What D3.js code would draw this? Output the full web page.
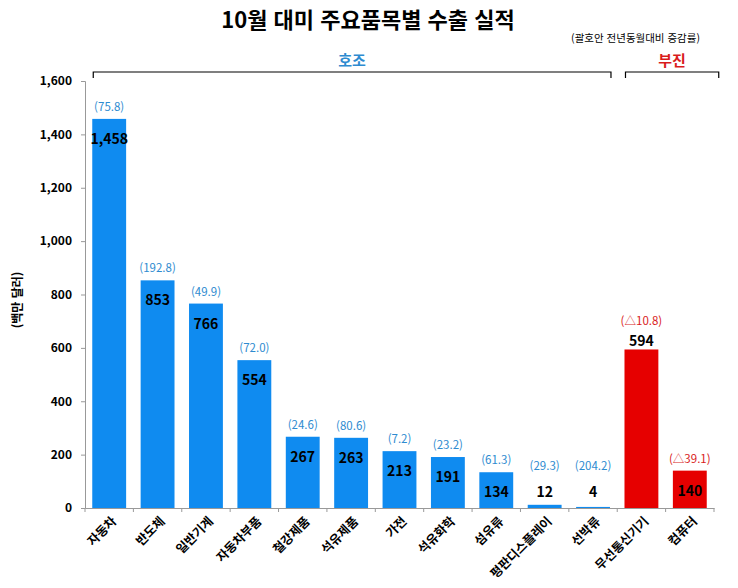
<!DOCTYPE html>
<html lang="ko">
<head>
<meta charset="UTF-8">
<title>10월 대미 주요품목별 수출 실적</title>
<script src="https://d3js.org/d3.v7.min.js"></script>
<style>
  body { margin: 0; background: #fff; font-family: "Noto Sans CJK KR", "Noto Sans", sans-serif; }
  svg text { font-family: "Noto Sans CJK KR", "Noto Sans", sans-serif; }
</style>
</head>
<body>
<svg id="chart" width="738" height="588"></svg>
<script>
  // data
  const items = ["자동차", "반도체", "일반기계", "자동차부품", "철강제품", "석유제품", "가전",
                 "석유화학", "섬유류", "평판디스플레이", "선박류", "무선통신기기", "컴퓨터"];
  const exportValues = [1458, 853, 766, 554, 267, 263, 213, 191, 134, 12, 4, 594, 140];
  const growth = ["(75.8)", "(192.8)", "(49.9)", "(72.0)", "(24.6)", "(80.6)", "(7.2)",
                  "(23.2)", "(61.3)", "(29.3)", "(204.2)", "(△10.8)", "(△39.1)"];
  const groups = ["호조", "호조", "호조", "호조", "호조", "호조", "호조", "호조", "호조", "호조", "호조", "부진", "부진"];
  const yTicks = [0, 200, 400, 600, 800, 1000, 1200, 1400, 1600];

  const blue = "#0f8bf0", red = "#e60000";
  const groupColor = { "호조": "#2e8bd0", "부진": "#d91c1c" };

  const svg = d3.select("#chart");
  const plotLeft = 85, plotRight = 714, plotTop = 81, plotBottom = 508;

  const x = d3.scaleBand().domain(items).range([plotLeft, plotRight]).paddingInner(0.3).paddingOuter(0.15);
  const y = d3.scaleLinear().domain([0, 1600]).range([plotBottom, plotTop]);

  // title
  svg.append("text").attr("x", 368).attr("y", 28).attr("text-anchor", "middle")
    .attr("font-size", 22).attr("font-weight", "bold").text("10월 대미 주요품목별 수출 실적");
  svg.append("text").attr("x", 700).attr("y", 42).attr("text-anchor", "end")
    .attr("font-size", 10.5).text("(괄호안 전년동월대비 증감률)");

  // y axis
  const yAxis = svg.append("g").attr("transform", `translate(${plotLeft},0)`)
    .call(d3.axisLeft(y).tickValues(yTicks).tickSize(4).tickFormat(d3.format(",")));
  yAxis.select(".domain").attr("stroke", "#999");
  yAxis.selectAll(".tick line").attr("stroke", "#999");
  yAxis.selectAll(".tick text").attr("x", -13).attr("font-size", 12).attr("font-weight", "bold").attr("fill", "#000");

  svg.append("text").attr("transform", "translate(22,300) rotate(-90)").attr("text-anchor", "middle")
    .attr("font-size", 12).attr("font-weight", "bold").text("(백만 달러)");

  // x axis
  const xAxis = svg.append("g").attr("transform", `translate(0,${plotBottom})`)
    .call(d3.axisBottom(x).tickSize(0).tickFormat(""));
  xAxis.select(".domain").attr("stroke", "#999");
  const step = x.step();
  svg.append("g").selectAll("line").data(d3.range(items.length + 1)).join("line")
    .attr("x1", i => plotLeft + i * step).attr("x2", i => plotLeft + i * step)
    .attr("y1", plotBottom).attr("y2", plotBottom + 4).attr("stroke", "#999");

  svg.append("g").selectAll("text").data(items).join("text")
    .attr("transform", d => `translate(${x(d) + x.bandwidth() / 2 + 8},${plotBottom + 14}) rotate(-45)`)
    .attr("text-anchor", "end").attr("font-size", 12.5).attr("font-weight", "bold").text(d => d);

  // bars
  svg.append("g").selectAll("rect").data(exportValues).join("rect")
    .attr("x", (d, i) => x(items[i])).attr("width", x.bandwidth())
    .attr("y", d => y(d)).attr("height", d => y(0) - y(d))
    .attr("fill", (d, i) => groups[i] === "호조" ? blue : red);

  // value labels (무선통신기기 sits on top of its bar, as in the source)
  svg.append("g").selectAll("text").data(exportValues).join("text")
    .attr("x", (d, i) => x(items[i]) + x.bandwidth() / 2)
    .attr("y", (d, i) => items[i] === "무선통신기기" ? y(d) - 3 : Math.min(y(d) + 25, plotBottom - 11))
    .attr("text-anchor", "middle").attr("font-size", 14).attr("font-weight", "bold").attr("fill", "#000")
    .text(d3.format(","));

  svg.append("g").selectAll("text").data(growth).join("text")
    .attr("x", (d, i) => x(items[i]) + x.bandwidth() / 2)
    .attr("y", (d, i) => items[i] === "무선통신기기" ? y(exportValues[i]) - 24 : Math.min(y(exportValues[i]) - 8, plotBottom - 38))
    .attr("text-anchor", "middle").attr("font-size", 11.5)
    .attr("fill", (d, i) => groupColor[groups[i]]).text(d => d);

  // group brackets
  const groupNames = ["호조", "부진"];
  groupNames.forEach(g => {
    const members = items.filter((d, i) => groups[i] === g);
    const x0 = x(members[0]) + 1;
    const x1 = x(members[members.length - 1]) + x.bandwidth() + (g === "부진" ? 12 : 1);
    svg.append("path").attr("d", `M${x0},${78}V${72}H${x1}V${78}`)
      .attr("fill", "none").attr("stroke", "#000").attr("stroke-width", 1.2);
    svg.append("text").attr("x", (x0 + x1) / 2).attr("y", 66).attr("text-anchor", "middle")
      .attr("font-size", 15).attr("font-weight", "bold").attr("fill", groupColor[g]).text(g);
  });
</script>
</body>
</html>
